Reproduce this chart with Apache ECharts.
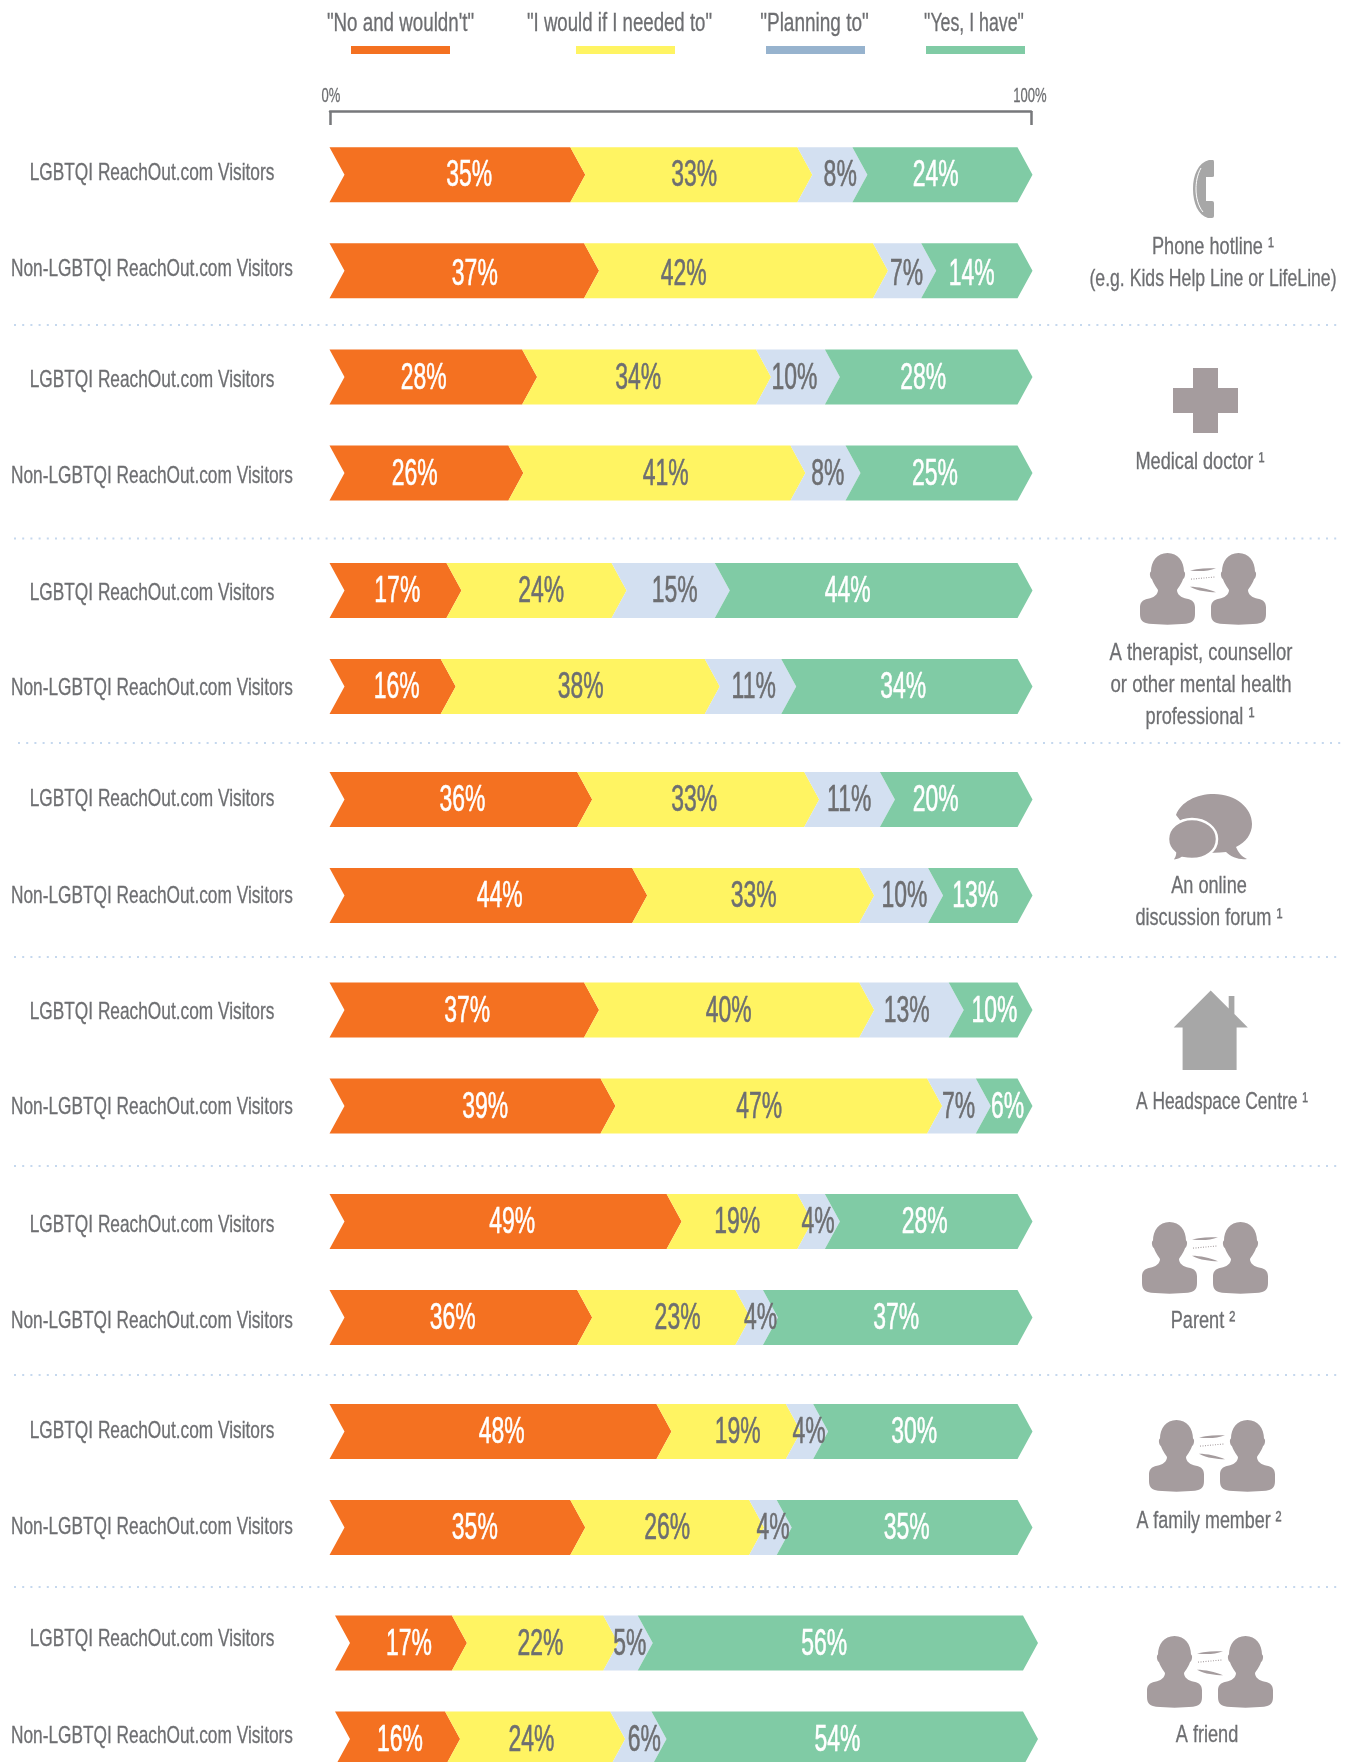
<!DOCTYPE html>
<html><head><meta charset="utf-8">
<style>html,body{margin:0;padding:0;background:#fff}#w{width:1349px;height:1762px;overflow:hidden}#c{width:1349px;height:1900px}</style>
<script src="https://cdn.jsdelivr.net/npm/echarts@6/dist/echarts.min.js"></script>
</head><body><div id="w"><div id="c"></div></div>
<script>
const statuses = ['"No and wouldn\'t"', '"I would if I needed to"', '"Planning to"', '"Yes, I have"'];
const audiences = ['LGBTQI ReachOut.com Visitors', 'Non-LGBTQI ReachOut.com Visitors'];
const tickLabels = ['0%', '100%'];

const phoneHotline   = [[35,33,8,24],[37,42,7,14]];
const medicalDoctor  = [[28,34,10,28],[26,41,8,25]];
const therapist      = [[17,24,15,44],[16,38,11,34]];
const onlineForum    = [[36,33,11,20],[44,33,10,13]];
const headspace      = [[37,40,13,10],[39,47,7,6]];
const parent         = [[49,19,4,28],[36,23,4,37]];
const familyMember   = [[48,19,4,30],[35,26,4,35]];
const friend         = [[17,22,5,56],[16,24,6,54]];
const values = [phoneHotline, medicalDoctor, therapist, onlineForum, headspace, parent, familyMember, friend];

// where each printed percentage sits along the 0-100 axis
const labelAt = [
 [[20.2,52.7,73.8,87.6],[21.0,51.2,83.4,92.8]],
 [[13.6,44.6,67.2,85.8],[12.3,48.6,72.0,87.5]],
 [[9.8,30.6,49.9,74.9],[9.7,36.3,61.3,82.9]],
 [[19.2,52.7,75.1,87.6],[24.6,61.3,83.1,93.3]],
 [[19.9,57.7,83.4,96.1],[22.5,62.1,90.9,98.0]],
 [[26.4,58.9,70.6,86.0],[17.8,50.3,62.3,81.9]],
 [[24.9,59.0,69.3,84.5],[21.0,48.8,64.1,83.4]],
 [[10.7,29.7,42.6,70.7],[9.4,28.4,44.7,72.6]]
];

// layout
const rowCentre = [174.7,377,590.5,799.5,1010,1221.5,1431.5,1643];
const gridLeft  = [329.5,329.5,329.5,329.5,329.5,329.5,329.5,335];
const catLabelY = [[173.5,269],[380.5,476],[593,688.5],[799.5,896.5],[1012.5,1107.5],[1225.5,1321.5],[1431.5,1527],[1639.5,1736.5]];
const labelNudge = [[1.5,4.5],[1.5,1.5],[1.5,1.5],[1.5,1.5],[1.5,1.5],[1.5,1.5],[1.5,1.5],[1.5,1.5]];
const BAND = 96, BAR_W = 688, BAR_H = 55, TIP = 15, CAT_X = 152, LABEL_K = 692/688;
const separators = [[14,1340,325],[14,1340,538.5],[18,1344,743],[14,1340,957],[14,1340,1166],[14,1340,1375],[14,1340,1587]];
const segColors = ['#f47121','#fff462','#d3e0f1','#80cba5'];
const swatchColors = ['#f47121','#fff462','#97b3ce','#80cba5'];
const labelColors = ['#ffffff','#6d6e71','#6d6e71','#ffffff'];
const FONT = '"Liberation Sans Narrow","Liberation Sans",sans-serif';
const GREY = '#6d6e71', ICON = '#a59c9e';

const grids=[], xAxes=[], yAxes=[], series=[];
values.forEach((group,g)=>{
  grids.push({left:gridLeft[g], width:BAR_W, top:rowCentre[g]-BAND/2, height:BAND*2});
  xAxes.push({gridIndex:g,type:'value',min:0,max:100,show:false});
  yAxes.push({gridIndex:g,type:'category',inverse:true,data:audiences,show:false});
  statuses.forEach((st,s)=>{
    const data = group.map((row,r)=>{
      const sum = row.reduce((a,b)=>a+b,0);
      const start = row.slice(0,s).reduce((a,b)=>a+b,0)/sum*100;
      const end = start + row[s]/sum*100;
      return [r,start,end,row[s],labelAt[g][r][s]*LABEL_K];
    });
    series.push({
      type:'custom',name:st,xAxisIndex:g,yAxisIndex:g,coordinateSystem:'cartesian2d',
      encode:{x:[1,2],y:0},data,silent:true,clip:false,
      renderItem(params,api){
        const r=api.value(0);
        const a=api.coord([api.value(1),r]), b=api.coord([api.value(2),r]);
        const h=BAR_H/2, y=a[1];
        const pts=[[a[0],y-h],[b[0],y-h],[b[0]+TIP,y],[b[0],y+h],[a[0],y+h],[a[0]+TIP,y]];
        const lx=api.coord([api.value(4),r])[0];
        return {type:'group',children:[
          {type:'polygon',shape:{points:pts},style:{fill:segColors[s]}},
          {type:'text',x:lx,y:y+labelNudge[g][r],scaleX:0.62,z2:5,style:{text:api.value(3)+'%',x:0,y:0,align:'center',verticalAlign:'middle',fontFamily:FONT,fontSize:37,fill:labelColors[s],stroke:labelColors[s],lineWidth:0.6}}
        ]};
      }
    });
  });
  series.push({
    type:'custom',name:'labels'+g,xAxisIndex:g,yAxisIndex:g,coordinateSystem:'cartesian2d',silent:true,
    encode:{x:1,y:0},data:audiences.map((n,r)=>[r,0]),
    renderItem(params,api){
      const r=api.value(0);
      return {type:'text',x:CAT_X,y:catLabelY[g][r],scaleX:0.72,style:{text:audiences[r],x:0,y:0,align:'center',verticalAlign:'middle',fontFamily:FONT,fontSize:24,fill:GREY,stroke:GREY,lineWidth:0.3}};
    }
  });
});
// scale bracket
const A=values.length;
grids.push({left:330,width:701,top:111,height:10});
xAxes.push({gridIndex:A,type:'value',position:'top',min:0,max:100,interval:100,
  axisLine:{show:true,onZero:false,lineStyle:{color:'#77787b',width:2.5}},
  axisTick:{show:true,inside:true,length:14,lineStyle:{color:'#77787b',width:2.5}},
  axisLabel:{show:false},splitLine:{show:false}});
yAxes.push({gridIndex:A,type:'value',show:false});

function txt(text,x,y,size,sx,fill){
  const c=fill||GREY;
  return {type:'text',x,y,scaleX:sx,silent:true,style:{text,x:0,y:0,align:'center',verticalAlign:'middle',fontFamily:FONT,fontSize:size,fill:c,stroke:c,lineWidth:0.3}};
}
const g=[];
// legend
const legendCentre=[400.5,619.5,814.5,974], swatchLeft=[351,576,766,926];
const legendScale=[0.75,0.745,0.76,0.71];
statuses.forEach((st,i)=>{
  g.push(txt(st,legendCentre[i],24,25,legendScale[i]));
  g.push({type:'rect',shape:{x:swatchLeft[i],y:46,width:99,height:8},style:{fill:swatchColors[i]}});
});
// axis labels
g.push(txt(tickLabels[0],331,96,21,0.62));
g.push(txt(tickLabels[1],1030,96,21,0.62));
// separators
separators.forEach(s=>g.push({type:'line',shape:{x1:s[0],y1:s[2],x2:s[1],y2:s[2]},style:{stroke:'#c5d8ee',lineWidth:2,lineDash:[2,6.2]}}));
// right side captions
const cap=[
 ['Phone hotline ¹',1213,247,0.74],['(e.g. Kids Help Line or LifeLine)',1213,279,0.72],
 ['Medical doctor ¹',1200,462,0.74],
 ['A therapist, counsellor',1201,653,0.755],['or other mental health',1201,685,0.76],['professional ¹',1200,717,0.74],
 ['An online',1209,886,0.74],['discussion forum ¹',1209,918,0.74],
 ['A Headspace Centre ¹',1222,1102,0.71],
 ['Parent ²',1203,1321,0.74],['A family member ²',1209,1521,0.73],['A friend',1207,1735,0.74]];
cap.forEach(c=>g.push(txt(c[0],c[1],c[2],24.5,c[3])));
// icons
const icons=[];
const personPath='M27.5 0C38 0 44 8 44 17C46 18 45 23 43 24C41 29 38 32 37 34C37 38 41 41 47 42C53 43 55 46 55 50L55 56C55 62 52 64 46 65C35 66 20 66 9 65C3 64 0 62 0 56L0 50C0 46 2 43 8 42C14 41 18 38 18 34C17 32 14 29 12 24C10 23 9 18 11 17C11 8 17 0 27.5 0Z';
function people(x,y){
  const kids=[
    {type:'path',x:0,y:0,shape:{pathData:personPath},style:{fill:ICON}},
    {type:'path',x:71,y:0,shape:{pathData:personPath},style:{fill:ICON}},
    {type:'path',shape:{pathData:'M50 16C58 14 68 14 76 14C68 17 58 17 50 16Z'},style:{fill:ICON}},
    {type:'line',shape:{x1:51,y1:24,x2:75,y2:22},style:{stroke:ICON,lineWidth:1,lineDash:[1,1.5]}},
    {type:'path',shape:{pathData:'M50 31C58 31 68 33 76 36C68 36 58 35 50 31Z'},style:{fill:ICON}}
  ];
  icons.push({type:'group',x,y,scaleY:1.09,children:kids});
}
people(1140,553);people(1142,1222);people(1149,1420);people(1147,1636);
// phone
icons.push({type:'path',shape:{pathData:'M1209 160L1213 160Q1214 160 1214 162L1214 176Q1214 177 1212 177L1206 177L1206 201L1212 201Q1214 201 1214 203L1214 216Q1214 218 1212 218L1208 218C1198 215 1193 203 1193 189C1193 175 1198 163 1209 160Z'},style:{fill:'#a7a7a7'}});
icons.push({type:'path',shape:{pathData:'M1201 168C1197 175 1196 183 1196 189C1196 197 1198 206 1203 212'},style:{fill:'none',stroke:'#ffffff',lineWidth:1}});
// cross
icons.push({type:'path',shape:{pathData:'M1193 368L1218 368L1218 388L1238 388L1238 413L1218 413L1218 433L1193 433L1193 413L1173 413L1173 388L1193 388Z'},style:{fill:ICON}});
// bubbles
icons.push({type:'path',shape:{pathData:'M1214 794C1236 794 1252 808 1252 824C1252 834 1246 842 1236 847C1238 852 1242 857 1247 859C1239 860 1231 857 1226 852C1218 853 1210 853 1205 852L1176 815C1181 802 1196 794 1214 794Z'},style:{fill:ICON}});
icons.push({type:'path',shape:{pathData:'M1192 819C1206 819 1217 828 1217 839C1217 851 1206 859 1192 859C1188 859 1185 858.5 1182 858C1179 860 1175 861 1171 861C1173 859 1175 856 1175 853C1170 849 1168 844 1168 839C1168 828 1179 819 1192 819Z'},style:{fill:ICON,stroke:'#ffffff',lineWidth:2.5}});
// house
icons.push({type:'path',shape:{pathData:'M1210.7 990.4L1228.7 1008.4L1228.7 996L1234.4 996L1234.4 1014L1247.8 1027.5L1236.6 1027.5L1236.6 1070L1182.6 1070L1182.6 1027.5L1173.7 1027.5Z'},style:{fill:'#a7a7a7'}});
series.push({type:'custom',name:'icons',coordinateSystem:'none',silent:true,data:[0],renderItem(){return {type:'group',children:icons};}});

const chart=echarts.init(document.getElementById('c'),null,{renderer:'canvas',width:1349,height:1900});
chart.setOption({animation:false,backgroundColor:'#ffffff',grid:grids,xAxis:xAxes,yAxis:yAxes,series,graphic:{elements:g}});
</script></body></html>
